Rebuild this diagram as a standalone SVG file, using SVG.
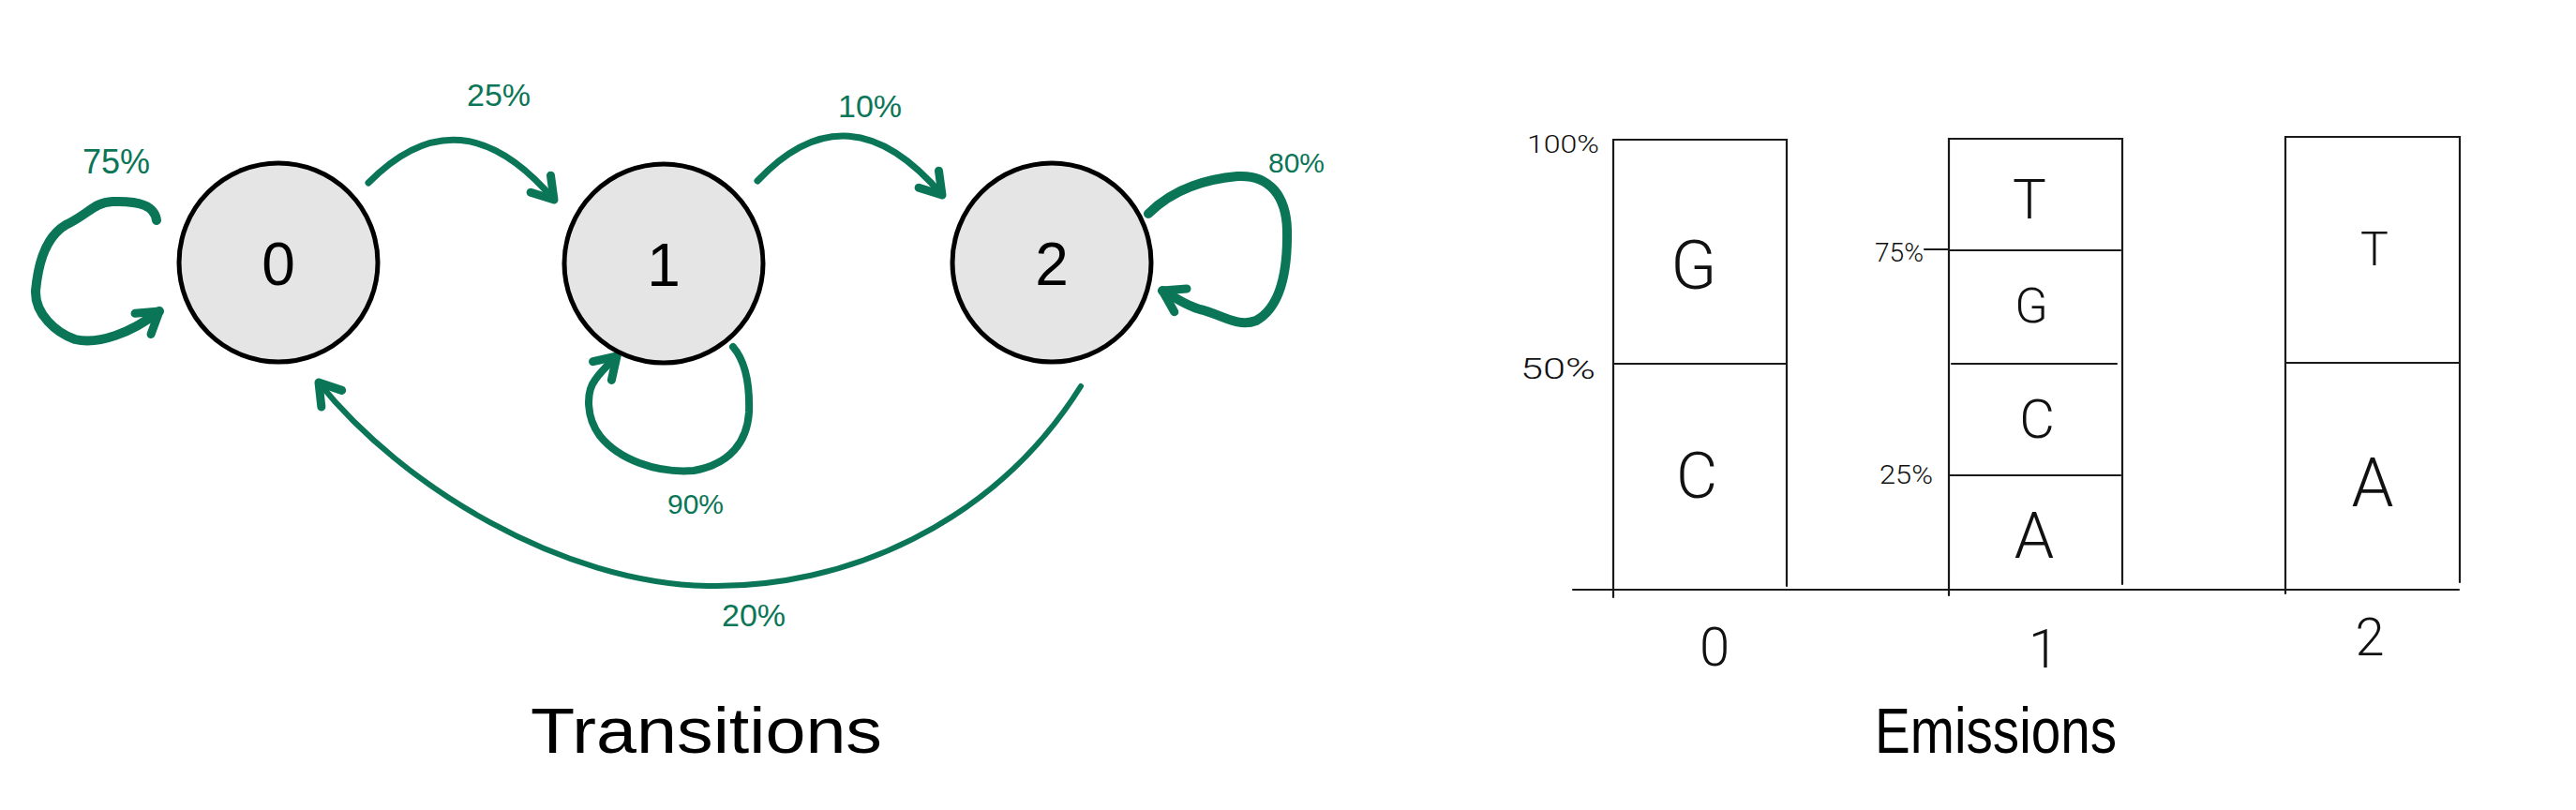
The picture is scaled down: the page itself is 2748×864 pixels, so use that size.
<svg xmlns="http://www.w3.org/2000/svg" width="2748" height="864" viewBox="0 0 2748 864">
<style>
.node{fill:#e5e5e5;stroke:#000;stroke-width:5}
.nlab{font-family:"Liberation Sans",Arial,sans-serif;font-size:64px;fill:#000;text-anchor:middle;dominant-baseline:central}
.edge{fill:none;stroke:#0a7657;stroke-linecap:round;stroke-linejoin:round}
.elab{font-family:"Liberation Sans",Arial,sans-serif;fill:#0a7657;text-anchor:middle;dominant-baseline:central}
.ax{stroke:#1a1a1a;stroke-width:2.2;fill:none;stroke-linecap:round}
.let{font-family:Roboto,"Liberation Sans",sans-serif;font-weight:300;fill:#111;text-anchor:middle;dominant-baseline:central}
.pct{font-family:Roboto,"Liberation Sans",sans-serif;font-weight:300;fill:#111;dominant-baseline:central}
.title{font-family:"Liberation Sans",Arial,sans-serif;font-size:68px;fill:#000}
</style>
<defs>
<marker id="ah" markerUnits="userSpaceOnUse" viewBox="-40 -30 50 60" refX="0" refY="0" markerWidth="50" markerHeight="60" orient="auto" overflow="visible">
<path d="M-22,-14 L0,0 L-22,14" fill="none" stroke="#0a7657" stroke-width="9" stroke-linecap="round" stroke-linejoin="round"/>
</marker>
</defs>
<rect width="2748" height="864" fill="#fff"/>

<g id="connectors">
<path class="edge" stroke-width="7" d="M393,195 Q491,95 591,213" marker-end="url(#ah)"/>
<path class="edge" stroke-width="7" d="M808,193 Q905,90 1005,208" marker-end="url(#ah)"/>
<path class="edge" stroke-width="6" d="M1153,412 C1060,560 900,628 755,625 C600,622 430,520 340,408" marker-end="url(#ah)"/>
<path class="edge" stroke-width="10" d="M167,235 C165,220 150,214 120,215 C100,216 95,228 70,240 C45,255 40,290 38,310 C37,335 60,355 80,362 C105,368 140,355 170,332" marker-end="url(#ah)"/>
<path class="edge" stroke-width="8" d="M782,370 C795,385 800,410 799,440 C797,470 780,495 740,502 C700,505 660,490 640,465 C625,445 625,418 635,405 C642,395 650,388 658,380" marker-end="url(#ah)"/>
<path class="edge" stroke-width="10" d="M1225,228 C1245,208 1275,192 1320,188 C1355,186 1372,210 1373,245 C1374,300 1362,330 1340,342 C1320,350 1300,334 1280,330 C1265,326 1255,318 1240,310" marker-end="url(#ah)"/>
<text class="elab" x="532" y="101" font-size="34">25%</text>
<text class="elab" x="928" y="113" font-size="34">10%</text>
<text class="elab" x="124" y="172" font-size="36">75%</text>
<text class="elab" x="1383" y="173" font-size="30">80%</text>
<text class="elab" x="742" y="537" font-size="30">90%</text>
<text class="elab" x="804" y="656" font-size="34">20%</text>
</g>

<g id="node0"><circle class="node" cx="297" cy="280" r="106"/><text class="nlab" x="297" y="282">0</text></g>
<g id="node1"><circle class="node" cx="708" cy="281" r="106"/><text class="nlab" x="708" y="283">1</text></g>
<g id="node2"><circle class="node" cx="1122" cy="280" r="106"/><text class="nlab" x="1122" y="282">2</text></g>

<text id="title-transitions" class="title" x="566" y="803" textLength="375" lengthAdjust="spacingAndGlyphs">Transitions</text>

<g id="emissions">
<line class="ax" x1="1678" y1="629" x2="2623" y2="629"/>
<path class="ax" d="M1721,637 L1721,149 L1906,149 L1906,625 M1721,388 L1905,388"/>
<path class="ax" d="M2079,635 L2079,148 L2264,148 L2264,623 M2079,267 L2262,267 M2082,388 L2258,388 M2079,507 L2262,507 M2053,266 L2079,266"/>
<path class="ax" d="M2438,633 L2438,146 L2624,146 L2624,621 M2438,387 L2624,387"/>
<text class="let" x="1807" y="283" font-size="72">G</text>
<text class="let" x="1810" y="508" font-size="68">C</text>
<text class="let" x="2165" y="212" font-size="60">T</text>
<text class="let" x="2167" y="326" font-size="52">G</text>
<text class="let" x="2173" y="447" font-size="58">C</text>
<text class="let" x="2170" y="572" font-size="68">A</text>
<text class="let" x="2533" y="266" font-size="50">T</text>
<text class="let" x="2531" y="515" font-size="72">A</text>
<text class="pct" x="1629" y="154" font-size="26" textLength="77" lengthAdjust="spacingAndGlyphs">100%</text>
<text class="pct" x="1622" y="393" font-size="32" textLength="80" lengthAdjust="spacingAndGlyphs">50%</text>
<text class="pct" x="2000" y="269" font-size="28" textLength="52" lengthAdjust="spacingAndGlyphs">75%</text>
<text class="pct" x="2005" y="507" font-size="27" textLength="57" lengthAdjust="spacingAndGlyphs">25%</text>
<text class="let" x="1829" y="690" font-size="58">0</text>
<text class="let" x="2180" y="692" font-size="58">1</text>
<text class="let" x="2528" y="680" font-size="56">2</text>
</g>

<text id="title-emissions" class="title" x="2000" y="803" textLength="258" lengthAdjust="spacingAndGlyphs">Emissions</text>
</svg>
